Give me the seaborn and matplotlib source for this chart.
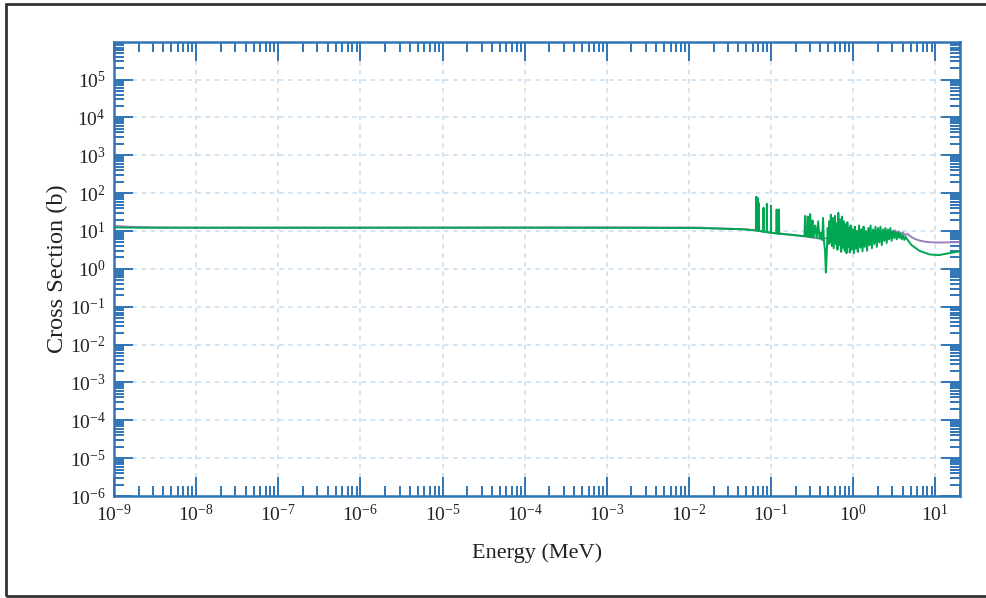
import numpy as np
import pandas as pd
import seaborn as sns
import matplotlib.pyplot as plt
from matplotlib.patches import Rectangle
from matplotlib.ticker import LogLocator, FuncFormatter, NullFormatter

# energies (MeV) and cross sections (b)
green_energy = [1e-9, 2e-9, 5e-9, 1e-8, 1e-7, 1e-6, 1e-5, 1e-4, 1e-3, 1e-2, 2e-2, 4e-2, 0.060,
                0.0655, 0.066, 0.0665, 0.068, 0.0685, 0.069, 0.0705, 0.071, 0.0715,
                0.0805, 0.081, 0.0815, 0.0885, 0.089, 0.0895, 0.0995, 0.100, 0.1005,
                0.116, 0.117, 0.118, 0.124, 0.125, 0.126, 0.20,
                0.255, 0.26, 0.265, 0.278, 0.28, 0.282, 0.298, 0.30, 0.302, 0.318, 0.32, 0.322,
                0.33, 0.345, 0.36, 0.375, 0.39, 0.405, 0.42, 0.43, 0.44, 0.455, 0.465, 0.472,
                0.48, 0.49, 0.50, 0.51, 0.52, 0.535, 0.55, 0.565, 0.58, 0.60, 0.615, 0.63,
                0.645, 0.66, 0.68, 0.70, 0.715, 0.73, 0.75, 0.77, 0.79, 0.81, 0.83, 0.85,
                0.87, 0.89, 0.91, 0.93, 0.96, 0.99, 1.02, 1.05, 1.08, 1.11, 1.14, 1.18,
                1.22, 1.26, 1.30, 1.34, 1.38, 1.43, 1.48, 1.53, 1.58, 1.63, 1.69, 1.75,
                1.81, 1.87, 1.94, 2.01, 2.08, 2.15, 2.23, 2.31, 2.39, 2.47, 2.56, 2.65,
                2.74, 2.84, 2.94, 3.05, 3.16, 3.27, 3.39, 3.51, 3.63, 3.76, 3.90, 4.04,
                4.2, 4.35, 4.5, 5.1, 6.4, 8.5, 11.0, 14.8, 20.0]
green_xs = [12.4, 12.2, 12.2, 12.2, 12.2, 12.2, 12.2, 12.2, 12.1, 12.0, 11.7, 11.2, 10.5,
            10.4, 80, 10.4, 10.3, 75, 10.3, 10.2, 55, 10.2,
            9.6, 41, 9.6, 9.3, 52, 9.3, 9.0, 47, 9.0,
            8.6, 37, 8.6, 8.5, 37, 8.5, 7.7,
            7.3, 25, 7.3, 7.2, 24, 7.1, 7.0, 28, 7.0, 6.9, 19, 6.9,
            6.8, 14, 6.5, 18, 6.2, 9, 5.8, 22, 5.5, 3.0, 0.8, 1.5,
            4.0, 12, 4.5, 18, 5.0, 27, 4.0, 22, 3.5, 25, 4.5, 16,
            3.2, 30, 4.2, 20, 2.8, 24, 3.6, 18, 3.0, 15, 2.6, 17,
            3.8, 12, 2.7, 14, 3.2, 11, 2.6, 13, 3.4, 10, 2.8, 14,
            3.6, 11, 2.9, 13, 3.8, 10, 3.0, 12, 4.2, 14, 3.5, 11,
            4.5, 13, 3.8, 12, 5.0, 13, 4.2, 11, 5.5, 12, 4.8, 11,
            6.0, 12, 5.5, 10, 6.5, 9.5, 6.0, 9.2, 6.6, 8.6, 6.0, 7.8,
            5.8, 7.0, 6.2, 4.3, 3.0, 2.4, 2.3, 2.6, 2.9]

purple_energy = [1e-9, 1.5e-9, 3e-9, 1e-8, 1e-6, 1.7e-4, 1e-3, 1.4e-2, 2e-2, 5e-2, 0.1, 0.2,
                 0.4, 1.0, 2.0, 2.8, 3.0, 3.2, 3.4, 3.6, 3.8, 4.0, 4.3, 4.6, 5.1, 5.6,
                 6.4, 7.5, 8.5, 11.0, 15.0, 20.0]
purple_xs = [13.6, 12.9, 12.4, 12.2, 12.2, 12.4, 12.45, 12.3, 11.7, 11.1, 9.0, 7.7,
             6.3, 7.0, 8.0, 10.0, 9.0, 10.5, 8.5, 9.8, 8.2, 9.2, 7.8, 8.3, 7.0, 6.2,
             5.6, 5.2, 5.05, 4.95, 5.0, 5.1]

df = pd.concat([
    pd.DataFrame({"Energy": purple_energy, "XS": purple_xs, "lib": "b"}),
    pd.DataFrame({"Energy": green_energy, "XS": green_xs, "lib": "a"}),
])

sns.set_style("white")
plt.rcParams['font.family'] = ['Liberation Serif', 'DejaVu Serif']
plt.rcParams['mathtext.fontset'] = 'custom'
plt.rcParams['mathtext.rm'] = 'Liberation Serif'
plt.rcParams['mathtext.it'] = 'Liberation Serif:italic'

blue = '#2f75b5'
fig = plt.figure(figsize=(9.87, 5.98), dpi=100)
ax = fig.add_axes([114/987, 102/598, 846/987, 454/598])

sns.lineplot(data=df, x="Energy", y="XS", hue="lib", palette={"a": "#00a651", "b": "#9b80c0"},
             hue_order=["b", "a"], estimator=None, sort=False, lw=1.4, legend=False, ax=ax)

ax.set_xscale('log')
ax.set_yscale('log')
ax.set_xlim(1e-9, 20)
ax.set_ylim(1e-6, 9.8e5)

fmt = FuncFormatter(lambda v, p: r'$\mathregular{10^{%d}}$' % round(np.log10(v)))
ax.xaxis.set_major_locator(LogLocator(base=10, numticks=20))
ax.yaxis.set_major_locator(LogLocator(base=10, numticks=20))
ax.xaxis.set_minor_locator(LogLocator(base=10, subs=np.arange(2, 10), numticks=20))
ax.yaxis.set_minor_locator(LogLocator(base=10, subs=np.arange(2, 10), numticks=20))
ax.xaxis.set_major_formatter(fmt)
ax.yaxis.set_major_formatter(fmt)
ax.xaxis.set_minor_formatter(NullFormatter())
ax.yaxis.set_minor_formatter(NullFormatter())

ax.tick_params(which='both', direction='in', top=True, right=True, bottom=True, left=True,
               color=blue, width=1.4, labelsize=14, labelcolor='#222222')
ax.tick_params(which='major', length=13.5, pad=6)
ax.tick_params(which='minor', length=7.5)
for s in ax.spines.values():
    s.set_color(blue)
    s.set_linewidth(1.8)

ax.grid(True, which='major', ls=(0, (3, 3)), color='#c6dcf0', lw=1.1)
ax.set_axisbelow(True)

ax.set_xlabel('Energy (MeV)', fontsize=16, color='#222222', labelpad=13)
ax.set_ylabel('Cross Section (b)', fontsize=17.5, color='#222222', labelpad=1)

fig.patches.append(Rectangle((6/987, 2/598), 1.2, 592/598, transform=fig.transFigure,
                             fill=False, ec='#333333', lw=2))

fig.savefig('out.png', dpi=100)
